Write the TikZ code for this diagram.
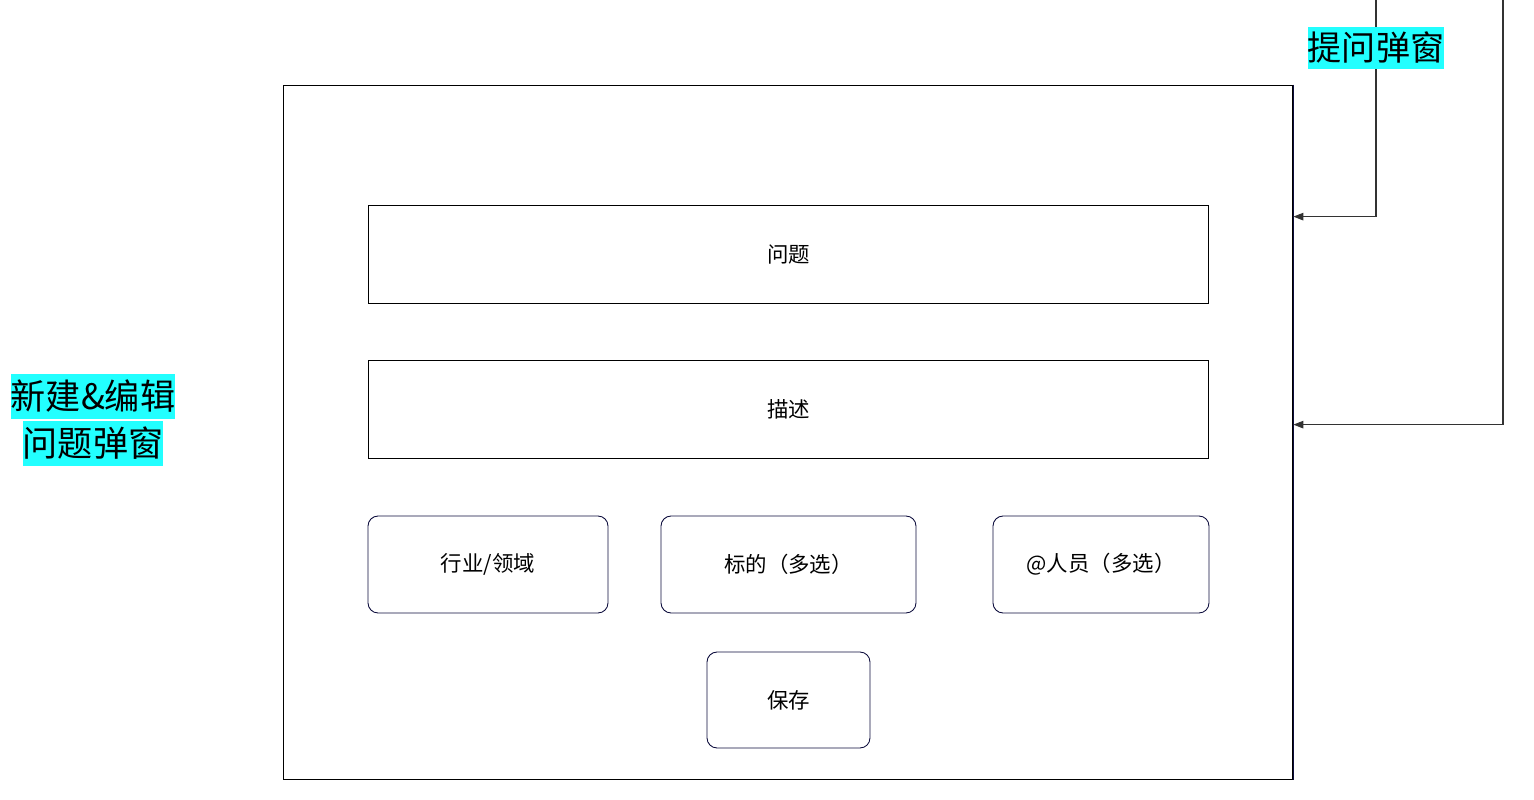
\documentclass[tikz,border=0pt]{standalone}
\usepackage{fontspec}
\usepackage{tikz}
\usetikzlibrary{calc, positioning, arrows.meta}
\newfontfamily\cjk{Noto Sans CJK SC}
\definecolor{LabelCyan}{RGB}{34, 255, 255}
\definecolor{EdgeNavy}{RGB}{12, 12, 60}
\definecolor{FlowGray}{RGB}{51, 51, 51}
\newcommand{\hlline}[1]{{\setlength\fboxsep{0pt}\colorbox{LabelCyan}{\rule[-0.19cm]{0pt}{0.9cm}#1}}}

\begin{document}
\begin{tikzpicture}[x=0.02cm, y=-0.02cm,
    field/.style={draw=black, line width=0.5pt, font=\cjk\fontsize{12.2pt}{14pt}\selectfont,
        minimum width=16.82cm, minimum height=1.96cm, inner sep=0pt},
    chip/.style={draw=EdgeNavy, line width=0.5pt, rounded corners=0.2cm,
        font=\cjk\fontsize{12.2pt}{14pt}\selectfont, minimum height=1.94cm, inner sep=0pt},
    tag/.style={fill=LabelCyan, inner sep=0pt, minimum height=0.84cm,
        font=\cjk\fontsize{19.4pt}{24pt}\selectfont},
    flow/.style={draw=FlowGray, line width=0.6pt, -{Triangle[width=0.15cm, length=0.2cm]}}]
    \useasboundingbox (0,0) rectangle (1534,800);

    % Marco del dialogo
    \node[draw=black, line width=0.5pt, minimum width=20.2cm, minimum height=13.9cm] (frame) at (788,432.5) {};
    \draw[EdgeNavy, line width=0.6pt] (frame.north east) -- (frame.south east);

    % Campos de texto
    \node[field] (question) at (788.5,254) {问题};
    \node[field] (desc) at (788.5,409) {描述};

    % Selectores
    \node[chip, minimum width=4.8cm] (industry) at (488,564.5) {行业/领域};
    \node[chip, minimum width=5.1cm] (target) at (788.5,564.5) {标的（多选）};
    \node[chip, minimum width=4.32cm] (people) at (1101,564.5) {@人员（多选）};
    \node[chip, minimum width=3.26cm, minimum height=1.92cm] (save) at (788.5,700) {保存};

    % Etiqueta del dialogo
    \node[align=center, inner sep=0pt, font=\cjk\fontsize{20pt}{25.6pt}\selectfont] (editlabel) at (93,420)
        {\hlline{新建\&编辑}\\\hlline{问题弹窗}};

    % Conectores de entrada
    \coordinate (askTop) at (1376,0);
    \coordinate (editTop) at (1503,0);
    \draw[flow] (askTop) |- ($(frame.north east)+(0,132)$)
        node[tag, pos=0.11] (asklabel) {提问弹窗};
    \draw[flow] (editTop) |- ($(frame.north east)+(0,340)$);
\end{tikzpicture}
\end{document}
